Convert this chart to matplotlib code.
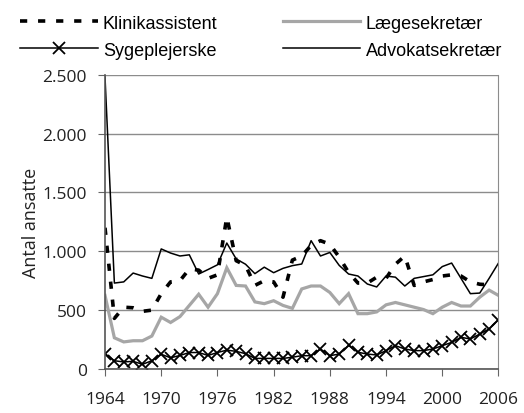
import numpy as np
import matplotlib
matplotlib.use("Agg")
from matplotlib import pyplot as plt
from matplotlib.ticker import FuncFormatter

years = list(range(1964, 2007))

klinikassistent = [1200, 430, 525, 520, 490, 500, 640, 740, 750, 850,
                   840, 770, 800, 1290, 920, 880, 710, 750, 740, 610,
                   925, 960, 1050, 1090, 1060, 950, 820, 730, 730, 780,
                   770, 890, 960, 710, 740, 760, 790, 800, 790, 740,
                   720, 715, np.nan]

laegesekretaer = [625, 265, 230, 240, 240, 280, 440, 395, 445, 540,
                  635, 525, 640, 860, 710, 705, 570, 555, 580, 540,
                  515, 680, 705, 705, 650, 555, 640, 470, 470, 485,
                  545, 565, 545, 525, 505, 470, 525, 565, 535, 535,
                  610, 670, 625]

sygeplejerske = [130, 70, 60, 65, 40, 70, 125, 95, 115, 140,
                 140, 115, 140, 160, 150, 130, 90, 90, 90, 90,
                 100, 113, 113, 170, 113, 127, 200, 142, 127, 119,
                 156, 198, 170, 156, 156, 170, 198, 226, 269, 255,
                 297, 340, 419]

advokatsekretaer = [2480, 730, 740, 815, 790, 770, 1020, 985, 960, 970,
                    807, 845, 885, 1070, 935, 890, 810, 865, 818, 855,
                    878, 892, 1090, 960, 990, 880, 807, 790, 722, 697,
                    790, 780, 705, 770, 785, 800, 870, 900, 770, 640,
                    645, 770, 900]

xticks = [1964, 1970, 1976, 1982, 1988, 1994, 2000, 2006]
yticks = [0, 500, 1000, 1500, 2000, 2500]

fig = plt.figure(figsize=(5.24, 4.14), dpi=100)
ax = fig.add_axes([0.2004, 0.1063, 0.7509, 0.7108])

ax.grid(axis="y", color="#8c8c8c", lw=1.0)
ax.set_axisbelow(True)

l2, = ax.plot(years, laegesekretaer, color="#a6a6a6", lw=2.3,
              solid_joinstyle="miter", label="Lægesekretær")
l1, = ax.plot(years, klinikassistent, color="black", lw=2.6,
              dashes=(2.0, 3.0), dash_capstyle="butt", label="Klinikassistent")
l3, = ax.plot(years, sygeplejerske, color="black", lw=1.1, marker="x",
              markersize=8, markeredgewidth=1.3, label="Sygeplejerske")
l4, = ax.plot(years, advokatsekretaer, color="black", lw=1.1,
              label="Advokatsekretær")

ax.set_xlim(1964, 2006)
ax.set_ylim(0, 2500)
ax.set_xticks(xticks)
ax.set_yticks(yticks)
ax.yaxis.set_major_formatter(FuncFormatter(lambda v, p: "{:,}".format(int(v)).replace(",", ".")))

for s in ["left", "bottom"]:
    ax.spines[s].set_color("#555555")
    ax.spines[s].set_linewidth(1.2)
ax.spines["right"].set_color("#8c8c8c")
ax.spines["top"].set_visible(False)

ax.tick_params(axis="both", direction="out", length=5, color="#666666",
               labelsize=12.5, colors="#222222")
ax.tick_params(axis="x", pad=11)
ax.tick_params(axis="y", pad=8)
for t in ax.get_xticklabels() + ax.get_yticklabels():
    t.set_family("Open Sans")

ax.set_ylabel("Antal ansatte", family="Open Sans", fontsize=13, color="#222222", labelpad=2)

fig.legend([l1, l3, l2, l4],
           ["Klinikassistent", "Sygeplejerske", "Lægesekretær", "Advokatsekretær"],
           loc="upper left", bbox_to_anchor=(0.038, 0.962), ncol=2,
           frameon=False, borderpad=0, borderaxespad=0,
           handlelength=4.3, handletextpad=0.3, columnspacing=3.6,
           labelspacing=0.55, numpoints=1,
           prop={"family": "Liberation Sans", "size": 13})

fig.savefig("out.png", dpi=100)
